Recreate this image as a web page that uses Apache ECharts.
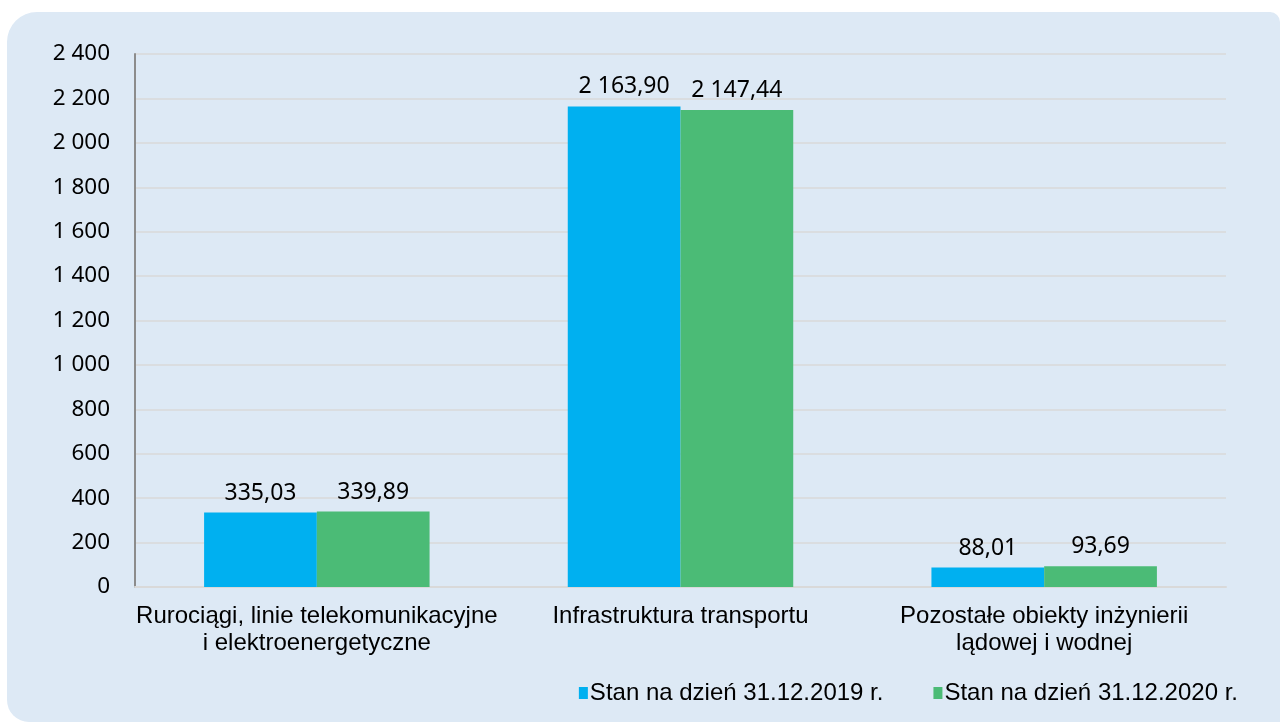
<!DOCTYPE html>
<html>
<head>
<meta charset="utf-8">
<script src="https://cdn.jsdelivr.net/npm/echarts@6/dist/echarts.min.js"></script>
<style>
  html, body { margin: 0; padding: 0; background: #fff; }
  #panel { position: absolute; left: 7px; top: 12px; width: 1273px; height: 710px; background: #dde9f5; border-radius: 30px 10px 0 22px; }
  #chart { position: absolute; left: 0; top: 0; width: 1280px; height: 722px; }
</style>
</head>
<body>
<div id="panel"></div>
<div id="chart"></div>
<script>
const categories = ['Rurociągi, linie telekomunikacyjne\ni elektroenergetyczne', 'Infrastruktura transportu', 'Pozostałe obiekty inżynierii\nlądowej i wodnej'];
const seriesNames = ['Stan na dzień 31.12.2019 r.', 'Stan na dzień 31.12.2020 r.'];
const values2019 = [335.03, 2163.90, 88.01];
const values2020 = [339.89, 2147.44, 93.69];
const colors = ['#00b0f0', '#4bbb76'];

function fmtThousands(v) {
  return String(v).replace(/\B(?=(\d{3})+(?!\d))/g, ' ');
}
function fmtValue(v) {
  const parts = v.toFixed(2).split('.');
  return fmtThousands(parts[0]) + ',' + parts[1];
}

const chart = echarts.init(document.getElementById('chart'));
chart.setOption({
  backgroundColor: 'transparent',
  animation: false,
  grid: { left: 135, right: 54, top: 54, bottom: 135 },
  legend: {
    right: 37, bottom: 12,
    itemWidth: 9, itemHeight: 12, itemGap: 50,
    icon: 'rect',
    textStyle: { fontFamily: 'Liberation Sans', fontSize: 24, color: '#000', padding: [0, 0, 0, -3] },
    data: seriesNames
  },
  xAxis: {
    type: 'category', data: categories,
    axisLine: { lineStyle: { color: '#d9d9d9', width: 2 } },
    axisTick: { show: false },
    axisLabel: { margin: 16, fontFamily: 'Liberation Sans', fontSize: 24, color: '#000', lineHeight: 27, interval: 0 }
  },
  yAxis: {
    type: 'value', min: 0, max: 2400, interval: 200,
    axisLine: { show: true, lineStyle: { color: '#8c8c8c', width: 2 } },
    axisTick: { show: false },
    splitLine: { lineStyle: { color: '#d9d9d9', width: 1.5 } },
    axisLabel: { margin: 25, fontFamily: 'Noto Sans', fontSize: 22.5, color: '#000', formatter: fmtThousands }
  },
  series: [values2019, values2020].map((vals, i) => ({
    name: seriesNames[i], type: 'bar', data: vals,
    barGap: '0%', barCategoryGap: '38%',
    itemStyle: { color: colors[i] },
    label: { show: true, position: 'top', distance: 8, fontFamily: 'Noto Sans', fontSize: 23, color: '#000', formatter: p => fmtValue(p.value) }
  }))
});
</script>
</body>
</html>
